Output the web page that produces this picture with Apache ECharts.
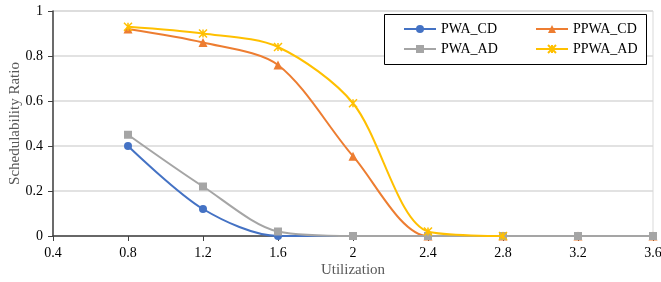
<!DOCTYPE html>
<html>
<head>
<meta charset="utf-8">
<script src="https://cdn.jsdelivr.net/npm/echarts@6/dist/echarts.min.js"></script>
<style>
  html, body { margin: 0; padding: 0; background: #fff; }
  #main { width: 661px; height: 282px; }
</style>
</head>
<body>
<div id="main"></div>
<script>
const utilization = [0.8, 1.2, 1.6, 2.0, 2.4, 2.8, 3.2, 3.6];
const pwaCD = [0.40, 0.12, 0.0, 0.0, 0.0, 0.0, 0.0, 0.0];
const ppwaCD = [0.92, 0.86, 0.76, 0.355, 0.0, 0.0, 0.0, 0.0];
const pwaAD = [0.45, 0.22, 0.02, 0.0, 0.0, 0.0, 0.0, 0.0];
const ppwaAD = [0.93, 0.90, 0.84, 0.59, 0.02, 0.0];

const font = 'Liberation Serif';
const starIcon = 'path://M0,0L10,10M10,0L0,10M5,0L5,10';

function pairs(vals) {
    return vals.map((v, i) => [utilization[i], v]);
}

function makeSeries(name, vals, color, symbol, size, z) {
    const s = {
        name: name,
        type: 'line',
        smooth: 0.3,
        data: pairs(vals),
        symbol: symbol,
        symbolSize: size,
        z: z,
        lineStyle: { color: color, width: 2 },
        itemStyle: { color: color }
    };
    if (symbol === starIcon) {
        s.itemStyle = { color: 'rgba(0,0,0,0)', borderColor: color, borderWidth: 1.5 };
    }
    return s;
}

const chart = echarts.init(document.getElementById('main'));

const legendText = { fontFamily: font, fontSize: 14, color: '#000' };

chart.setOption({
    animation: false,
    backgroundColor: '#fff',
    grid: {
        left: 53, right: 8, top: 11, bottom: 46,
        outerBoundsMode: 'none',
        containLabel: false,
        show: true, borderColor: '#d9d9d9', borderWidth: 1
    },
    graphic: [
        {
            type: 'rect',
            left: 384, top: 14,
            shape: { width: 262, height: 50 },
            style: { fill: '#fff', stroke: '#000', lineWidth: 1 },
            z: 90
        }
    ],
    legend: [
        {
            data: ['PWA_CD', 'PWA_AD'],
            orient: 'vertical',
            left: 398, top: 17,
            itemWidth: 32, itemHeight: 10,
            itemGap: 6,
            textStyle: legendText,
            z: 100
        },
        {
            data: ['PPWA_CD', 'PPWA_AD'],
            orient: 'vertical',
            left: 530, top: 17,
            itemWidth: 32, itemHeight: 10,
            itemGap: 6,
            textStyle: legendText,
            z: 100
        }
    ],
    xAxis: {
        type: 'value',
        min: 0.4, max: 3.6, interval: 0.4,
        name: 'Utilization',
        nameLocation: 'middle',
        nameGap: 27,
        nameMoveOverlap: false,
        nameTextStyle: { fontFamily: font, fontSize: 15, color: '#595959' },
        axisLine: { lineStyle: { color: '#404040', width: 1.5 } },
        axisTick: { show: true, length: 5, lineStyle: { color: '#404040' } },
        axisLabel: {
            fontFamily: font, fontSize: 14, color: '#000', margin: 10,
            formatter: v => String(+v.toFixed(1))
        },
        splitLine: { show: false }
    },
    yAxis: {
        type: 'value',
        min: 0, max: 1, interval: 0.2,
        name: 'Schedulability Ratio',
        nameLocation: 'middle',
        nameGap: 30,
        nameMoveOverlap: false,
        nameTextStyle: { fontFamily: font, fontSize: 15, color: '#595959' },
        axisLine: { show: true, lineStyle: { color: '#404040', width: 1.5 } },
        axisTick: { show: true, length: 5, lineStyle: { color: '#404040' } },
        axisLabel: {
            fontFamily: font, fontSize: 14, color: '#000', margin: 10,
            formatter: v => String(+v.toFixed(1))
        },
        splitLine: { lineStyle: { color: '#d9d9d9', width: 1.5 } }
    },
    series: [
        makeSeries('PWA_CD', pwaCD, '#4472C4', 'circle', 8, 2),
        makeSeries('PPWA_CD', ppwaCD, '#ED7D31', 'triangle', 9, 3),
        makeSeries('PWA_AD', pwaAD, '#A5A5A5', 'rect', 8, 4),
        makeSeries('PPWA_AD', ppwaAD, '#FFC000', starIcon, 8, 5)
    ]
});
</script>
</body>
</html>
